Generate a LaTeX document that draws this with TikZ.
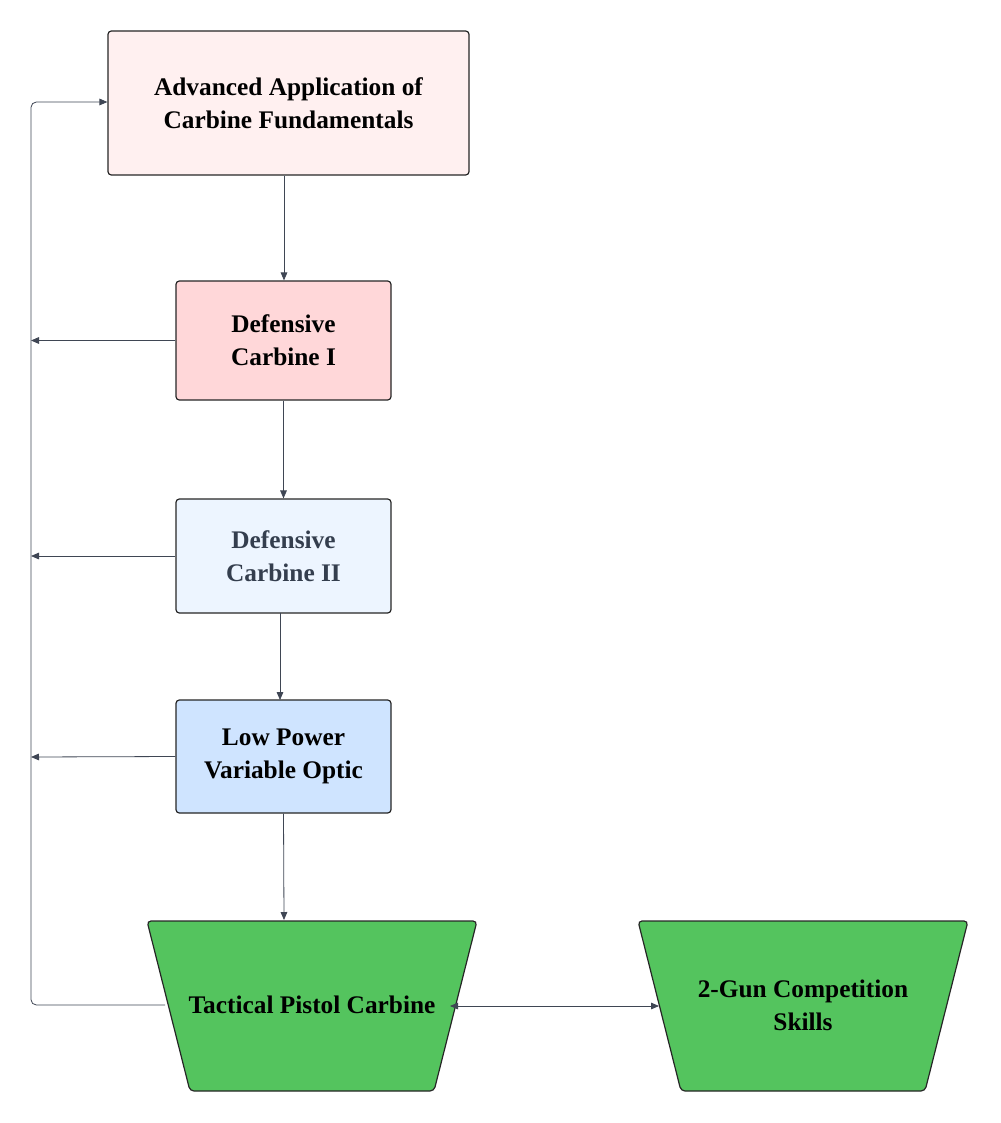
\documentclass[tikz,border=0pt]{standalone}
\usepackage{fontspec}
\setmainfont{Liberation Serif}
\usetikzlibrary{arrows.meta}
\definecolor{lineC}{HTML}{3F4654}
\definecolor{cA}{HTML}{FFF0F0}
\definecolor{cB}{HTML}{FFD7D9}
\definecolor{cC}{HTML}{EDF5FF}
\definecolor{cD}{HTML}{CFE4FF}
\definecolor{cG}{HTML}{54C45E}
\definecolor{tC}{HTML}{343E4E}
\begin{document}
\begin{tikzpicture}[x=0.75pt,y=-0.75pt,
  box/.style={draw=black!85,line width=0.9pt,rounded corners=2.5pt,align=center,font=\fontsize{19}{25}\selectfont\bfseries,inner sep=0pt},
  trap/.style={draw=black!85,line width=0.9pt,fill=cG,rounded corners=3pt},
  lbl/.style={align=center,font=\fontsize{19}{25}\selectfont\bfseries,inner sep=0pt},
  conn/.style={draw=lineC,line width=0.6pt,-{Triangle[length=6pt,width=5pt]}}]
\useasboundingbox (0,0) rectangle (1000,1123);
\node[box,fill=cA,minimum width=361*0.75pt,minimum height=144*0.75pt] (a) at (288.5,103) {Advanced Application of\\Carbine Fundamentals};
\node[box,fill=cB,minimum width=215*0.75pt,minimum height=119*0.75pt] (b) at (283.5,340.5) {Defensive\\Carbine I};
\node[box,fill=cC,text=tC,minimum width=215*0.75pt,minimum height=114*0.75pt] (c) at (283.5,556) {Defensive\\Carbine II};
\node[box,fill=cD,minimum width=215*0.75pt,minimum height=113*0.75pt] (d) at (283.5,756.5) {Low Power\\Variable Optic};
\draw[trap] (147,921) -- (477,921) -- (434,1091) -- (190,1091) -- cycle;
\draw[trap] (638,921) -- (968,921) -- (925,1091) -- (681,1091) -- cycle;
\node[lbl] (e) at (312,1005) {Tactical Pistol Carbine};
\node[lbl] (f) at (803,1005) {2-Gun Competition\\Skills};
\coordinate (eT) at (284,920);
\coordinate (eL) at (165,1005);
\coordinate (eR) at (450,1006);
\coordinate (fL) at (659,1006);
\coordinate (lb) at (31,340.5);
\coordinate (lc) at (31,556);
\coordinate (ld) at (31,757);
\draw[conn] (a.south -| 284,0) -- (b.north -| 284,0);
\draw[conn] (b.south) -- (c.north);
\draw[conn] (280,613) -- (280,700);
\draw[conn] (d.south) -- (eT);
\draw[conn] (b.west) -- (lb);
\draw[conn] (c.west) -- (lc);
\draw[conn] (d.west) -- (ld);
\draw[conn,rounded corners=4pt] (eL) -- (31,1005) -- (31,102) -- (a.west |- 0,102);
\draw[conn,{Triangle[length=6pt,width=5pt]}-{Triangle[length=6pt,width=5pt]}] (eR) -- (fL);
\end{tikzpicture}
\end{document}
